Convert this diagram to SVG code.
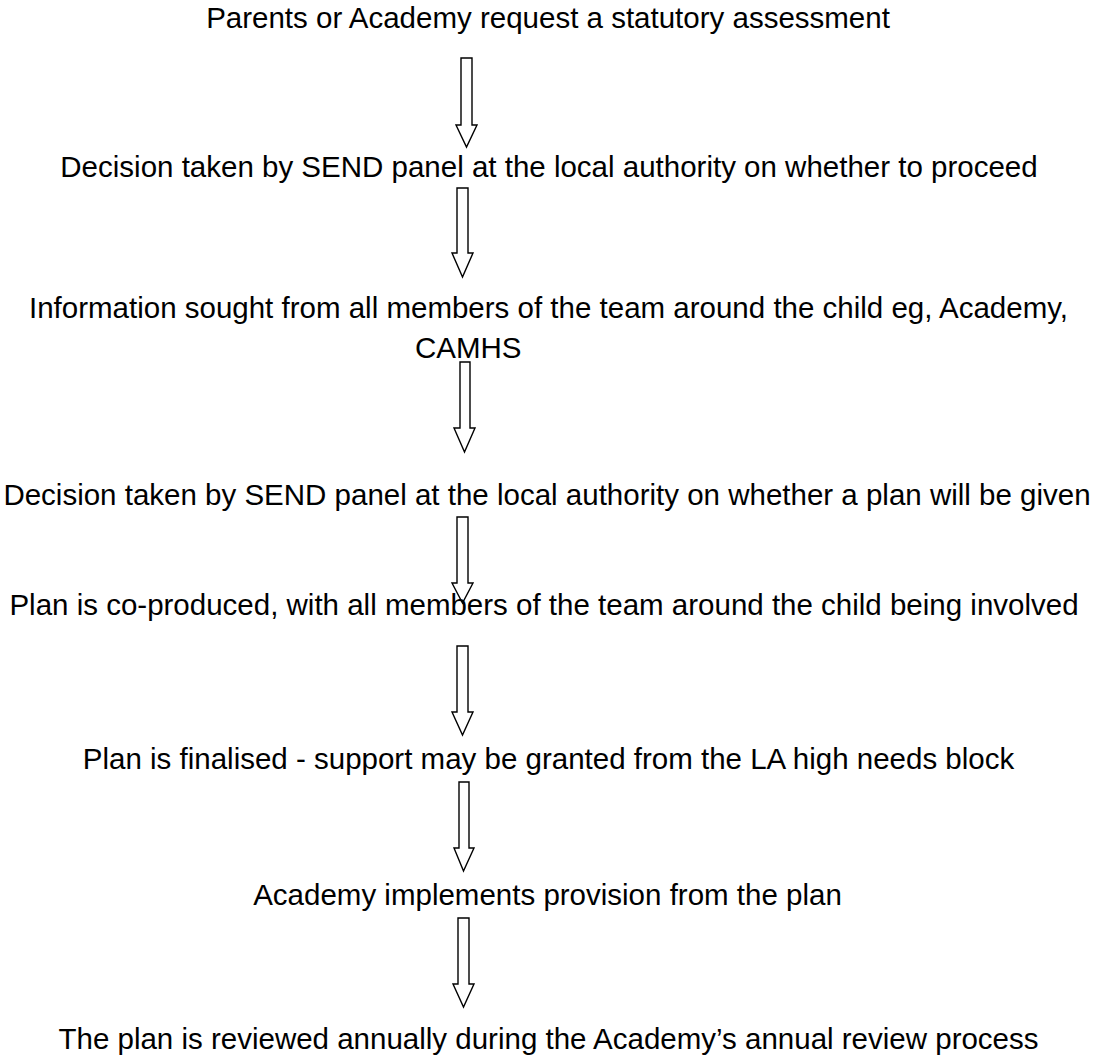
<svg xmlns="http://www.w3.org/2000/svg" width="1097" height="1063" viewBox="0 0 1097 1063">
<style>
.t{font-family:"Liberation Sans",Arial,sans-serif;font-size:29.5px;fill:#000}
.c{text-anchor:middle}
.a{fill:none;stroke:#000;stroke-width:1.4;stroke-linejoin:miter}
</style>
<rect width="1097" height="1063" fill="#fff"/>
<g id="connectors">
<path class="a" d="M461,58 H472 V125 H477 L466.5,147 L456,125 H461 Z"/>
<path class="a" d="M457,188 H468 V253 H473 L462.5,277 L452,253 H457 Z"/>
<path class="a" d="M460,362 H470 V428 H475 L464.5,452 L454,428 H460 Z"/>
<path class="a" d="M457,517 H468 V583 H473 L462.5,603 L452,583 H457 Z"/>
<path class="a" d="M457,646 H468 V712 H473 L462.5,735 L452,712 H457 Z"/>
<path class="a" d="M459,782 H469 V848 H474 L463.5,871 L454,848 H459 Z"/>
<path class="a" d="M458,918 H469 V984 H474 L463.5,1007 L453,984 H458 Z"/>
</g>
<g id="n1"><text class="t c" x="548" y="28">Parents or Academy request a statutory assessment</text></g>
<g id="n2"><text class="t c" x="549" y="177">Decision taken by SEND panel at the local authority on whether to proceed</text></g>
<g id="n3"><text class="t c" x="548.5" y="318">Information sought from all members of the team around the child eg, Academy,</text><text class="t" x="415" y="358">CAMHS</text></g>
<g id="n4"><text class="t c" x="547" y="505">Decision taken by SEND panel at the local authority on whether a plan will be given</text></g>
<g id="n5"><text class="t c" x="544" y="615">Plan is co-produced, with all members of the team around the child being involved</text></g>
<g id="n6"><text class="t c" x="548.5" y="769">Plan is finalised - support may be granted from the LA high needs block</text></g>
<g id="n7"><text class="t c" x="547.5" y="905">Academy implements provision from the plan</text></g>
<g id="n8"><text class="t c" x="548.5" y="1049">The plan is reviewed annually during the Academy’s annual review process</text></g>
</svg>
